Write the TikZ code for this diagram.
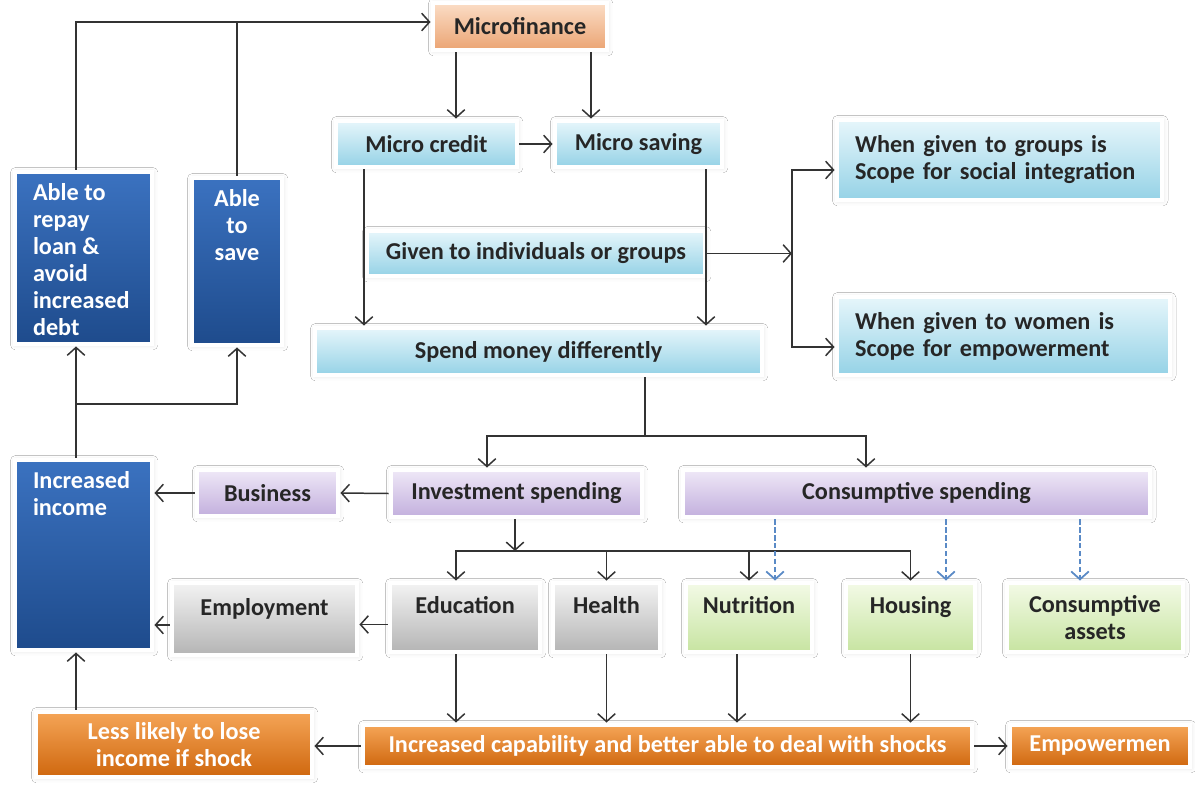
\documentclass[tikz,border=0pt]{standalone}
\usepackage{fontspec}
\setmainfont{Carlito}
\usepackage{tikz}
\usetikzlibrary{arrows.meta,shadows.blur}

\definecolor{navytop}{HTML}{3B72C0}
\definecolor{navybot}{HTML}{1E4B8C}
\definecolor{skytop}{HTML}{E6F6FB}
\definecolor{skybot}{HTML}{95D2E6}
\definecolor{peachtop}{HTML}{FBDDC6}
\definecolor{peachbot}{HTML}{EBA473}
\definecolor{lilactop}{HTML}{EFE8F7}
\definecolor{lilacbot}{HTML}{C2AFDD}
\definecolor{greytop}{HTML}{F3F3F3}
\definecolor{greybot}{HTML}{B4B4B4}
\definecolor{limetop}{HTML}{F3FAE6}
\definecolor{limebot}{HTML}{C7E4A1}
\definecolor{ambertop}{HTML}{F5A557}
\definecolor{amberbot}{HTML}{CF670E}
\definecolor{linegrey}{HTML}{333333}
\definecolor{dashblue}{HTML}{5A8AC6}

\tikzset{
    box/.style={rectangle, draw=white, line width=2.8pt, inner sep=0pt,
        font=\fontsize{13.8}{15.4}\selectfont\bfseries, text=black!85,
        blur shadow={shadow xshift=0.4pt, shadow yshift=-0.4pt,
            shadow blur radius=3pt, shadow opacity=12}},
    sz/.style 2 args={minimum width=#1*0.02cm, minimum height=#2*0.02cm},
    toptext/.style={text height=10pt, text depth=14pt},
    navy/.style={box, top color=navytop, bottom color=navybot, text=white,
        inner xsep=0.36cm, inner ysep=0.22cm},
    sky/.style={box, top color=skytop, bottom color=skybot},
    peach/.style={box, top color=peachtop, bottom color=peachbot},
    lilac/.style={box, top color=lilactop, bottom color=lilacbot},
    grey/.style={box, top color=greytop, bottom color=greybot},
    lime/.style={box, top color=limetop, bottom color=limebot},
    amber/.style={box, top color=ambertop, bottom color=amberbot, text=white},
    link/.style={draw=linegrey, line width=0.85pt},
    arr/.style={link, -{Straight Barb[length=4.5pt,width=10pt]}},
    dasharr/.style={draw=dashblue, line width=1pt, dash pattern=on 3pt off 1.5pt,
        -{Straight Barb[length=4.5pt,width=10pt]}}
}

\begin{document}
\begin{tikzpicture}[x=0.02cm, y=-0.02cm]

    \fill[white] (0,0) rectangle (1195,804);
    \useasboundingbox (0,0) rectangle (1195,804);

    % top part
    \node[peach, sz={174}{47}] (micro) at (520,26.5) {Microfinance};
    \node[sky, sz={181}{46}] (credit) at (426.5,144) {Micro credit};
    \node[sky, sz={167}{46}] (saving) at (638.5,144) {Micro saving};
    \node[sky, sz={338}{45}] (given) at (536,253.5) {Given to individuals or groups};
    \node[sky, sz={447}{47}] (spend) at (538.5,351.5) {Spend money differently};
    \node[sky, sz={325}{80}, align=left, text width=5.78cm] (groups) at (999.5,160)
        {When given to groups is\\Scope for social integration};
    \node[sky, sz={333}{78}, align=left, text width=5.94cm] (women) at (1003.5,336)
        {When given to women is\\Scope for empowerment};

    % left column
    \node[navy, sz={137}{172}] (repay) at (83.5,258)
        {\parbox[c][3.00cm][t]{2.02cm}{\raggedright Able to\\repay\\loan \&\\avoid\\increased\\debt}};
    \node[navy, inner xsep=0.1cm, sz={90}{167}] (save) at (237,261.5)
        {\parbox[c][2.90cm][t]{1.6cm}{\centering Able\\to\\save}};
    \node[navy, sz={137}{190}] (income) at (83.5,555)
        {\parbox[c][3.36cm][t]{2.02cm}{\raggedright Increased\\income}};

    % spending
    \node[lilac, sz={141}{46}] (business) at (267.5,493) {Business};
    \node[lilac, sz={251}{47}] (invest) at (516.5,493.5) {Investment spending};
    \node[lilac, sz={467}{47}] (cons) at (916.5,493.5) {Consumptive spending};

    \node[grey, toptext, sz={185}{72}] (empl) at (264.5,619) {Employment};
    \node[grey, toptext, sz={150}{69}] (edu) at (465,617.5) {Education};
    \node[grey, toptext, sz={107}{69}] (health) at (606.5,617.5) {Health};
    \node[lime, toptext, sz={126}{69}] (nutri) at (749,617.5) {Nutrition};
    \node[lime, toptext, sz={129}{69}] (housing) at (910.5,617.5) {Housing};
    \node[lime, align=center, sz={176}{69}] (assets) at (1095,617.5) {Consumptive\\assets};

    % bottom row
    \node[amber, align=center, sz={276}{65}] (less) at (174,744.5) {Less likely to lose\\income if shock};
    \node[amber, sz={609}{42}] (capab) at (667.5,746)
        {Increased capability and better able to deal with shocks};
    \node[amber, sz={180}{42}] (empow) at (1100,746) {Empowermen};

    % feedback to microfinance
    \coordinate (feed) at ([yshift=0.09cm]micro.west);
    \draw[arr] ([xshift=-0.15cm]repay.north) |- (feed);
    \draw[link] (save.north) -- (save.north |- feed);

    % microfinance branches
    \coordinate (m1) at ([xshift=-1.28cm]micro.south);
    \coordinate (m2) at ([xshift=1.42cm]micro.south);
    \draw[arr] (m1) -- (m1 |- credit.north);
    \draw[arr] (m2) -- (m2 |- saving.north);
    \draw[arr] (credit.east) -- (saving.west);
    \coordinate (c1) at ([xshift=-1.25cm]credit.south);
    \coordinate (s1) at ([xshift=1.35cm]saving.south);
    \draw[arr] (c1) -- (c1 |- spend.north);
    \draw[arr] (s1) -- (s1 |- spend.north);

    % groups / women
    \coordinate (split) at (792,253.5);
    \draw[arr] (given.east) -- (split);
    \draw[arr] (split) |- ([yshift=-0.2cm]groups.west);
    \draw[arr] (split) |- ([yshift=-0.22cm]women.west);

    % spend money split
    \coordinate (fork) at (645,436);
    \draw[link] (fork |- spend.south) -- (fork);
    \coordinate (i1) at ([xshift=-0.59cm]invest.north);
    \coordinate (k1) at ([xshift=-1.01cm]cons.north);
    \draw[arr] (fork) -| (i1);
    \draw[arr] (fork) -| (k1);

    \draw[arr] (invest.west) -- (business.east);
    \draw[arr] (business.west) -- (business.west -| income.east);

    % investment to the four
    \coordinate (hub) at (515,551);
    \draw[arr] (hub |- invest.south) -- (hub);
    \coordinate (e1) at ([xshift=-0.18cm]edu.north);
    \draw[arr] (hub) -| (e1);
    \draw[arr] (hub) -| (health.north);
    \draw[arr] (hub) -| (nutri.north);
    \draw[arr] (hub) -| (housing.north);

    % consumptive (dashed)
    \coordinate (d1) at ([xshift=-2.83cm]cons.south);
    \coordinate (d2) at ([xshift=0.59cm]cons.south);
    \coordinate (d3) at ([xshift=3.27cm]cons.south);
    \draw[dasharr] (d1) -- (d1 |- nutri.north);
    \draw[dasharr] (d2) -- (d2 |- housing.north);
    \draw[dasharr] (d3) -- (d3 |- assets.north);

    % to employment and income
    \coordinate (e2) at ([yshift=-0.14cm]edu.west);
    \draw[arr] (e2) -- (e2 -| empl.east);
    \coordinate (p2) at ([yshift=-0.12cm]empl.west);
    \draw[arr] (p2) -- (p2 -| income.east);

    % down to capability
    \coordinate (e3) at ([xshift=-0.18cm]edu.south);
    \coordinate (n3) at ([xshift=-0.24cm]nutri.south);
    \draw[arr] (e3) -- (e3 |- capab.north);
    \draw[arr] (health.south) -- (health.south |- capab.north);
    \draw[arr] (n3) -- (n3 |- capab.north);
    \draw[arr] (housing.south) -- (housing.south |- capab.north);
    \draw[arr] (capab.west) -- (capab.west -| less.east);
    \draw[arr] (capab.east) -- (empow.west);

    % back up the left side
    \coordinate (l1) at ([xshift=-0.15cm]income.south);
    \draw[arr] (l1 |- less.north) -- (l1);
    \coordinate (rise) at (76,404);
    \draw[arr] (rise |- income.north) -- (rise |- repay.south);
    \draw[arr] (rise) -| (save.south);

\end{tikzpicture}
\end{document}
